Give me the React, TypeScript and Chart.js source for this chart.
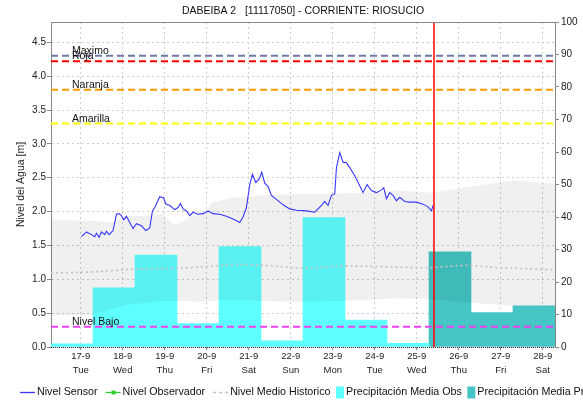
import React, { useEffect, useRef } from 'react';
import { Chart, registerables } from 'chart.js';

Chart.register(...registerables);

const FONT = '"Liberation Sans", Arial, sans-serif';

// ---------- texts ----------
const TITLE = 'DABEIBA 2   [11117050] - CORRIENTE: RIOSUCIO';
const Y_TITLE = 'Nivel del Agua [m]';

// ---------- x axis (days since 17-9 00:00) ----------
const X_MIN = -17 / 24; // 16-9 07:00
const X_MAX = 11 + 7 / 24; // 28-9 07:00
const NOW_DAY = 8.41;
const dayTicks = [0, 1, 2, 3, 4, 5, 6, 7, 8, 9, 10, 11];
const dateLabels = ['17-9', '18-9', '19-9', '20-9', '21-9', '22-9', '23-9', '24-9', '25-9', '26-9', '27-9', '28-9'];
const weekdayLabels = ['Tue', 'Wed', 'Thu', 'Fri', 'Sat', 'Sun', 'Mon', 'Tue', 'Wed', 'Thu', 'Fri', 'Sat'];

// ---------- y axes ----------
const LEVEL_MAX = 4.8;
const levelTicks = [0, 0.5, 1, 1.5, 2, 2.5, 3, 3.5, 4, 4.5];
const RAIN_MAX = 100;
const rainTicks = [0, 10, 20, 30, 40, 50, 60, 70, 80, 90, 100];

// ---------- Nivel Sensor ----------
const sensorDay = [0.017, 0.136, 0.255, 0.333, 0.374, 0.436, 0.493, 0.571, 0.612, 0.674, 0.769, 0.850, 0.912, 0.969, 1.024, 1.088, 1.167, 1.245, 1.326, 1.445, 1.548, 1.643, 1.707, 1.762, 1.881, 1.976, 2.024, 2.119, 2.238, 2.317, 2.374, 2.436, 2.517, 2.595, 2.674, 2.793, 2.912, 3.031, 3.150, 3.310, 3.469, 3.626, 3.786, 3.864, 3.945, 4.024, 4.088, 4.167, 4.245, 4.310, 4.381, 4.460, 4.540, 4.660, 4.817, 4.976, 5.136, 5.374, 5.571, 5.731, 5.810, 5.888, 5.969, 6.048, 6.088, 6.167, 6.245, 6.326, 6.405, 6.524, 6.643, 6.721, 6.817, 6.921, 7.040, 7.160, 7.214, 7.279, 7.357, 7.436, 7.517, 7.595, 7.714, 7.833, 7.993, 8.150, 8.269, 8.350, 8.388];
const sensorLevel = [1.63, 1.70, 1.66, 1.63, 1.68, 1.62, 1.70, 1.66, 1.71, 1.66, 1.72, 1.96, 1.97, 1.94, 1.88, 1.93, 1.84, 1.75, 1.82, 1.79, 1.72, 1.76, 2.01, 2.06, 2.22, 2.20, 2.11, 2.09, 2.03, 2.06, 2.12, 2.04, 2.01, 1.94, 1.99, 1.96, 1.97, 2.01, 1.97, 1.96, 1.93, 1.89, 1.84, 1.92, 2.06, 2.40, 2.55, 2.43, 2.48, 2.58, 2.42, 2.37, 2.24, 2.18, 2.10, 2.04, 2.02, 2.01, 1.99, 2.09, 2.15, 2.09, 2.24, 2.26, 2.65, 2.87, 2.73, 2.72, 2.65, 2.53, 2.38, 2.28, 2.40, 2.31, 2.28, 2.32, 2.35, 2.19, 2.28, 2.24, 2.16, 2.21, 2.15, 2.14, 2.14, 2.11, 2.07, 2.01, 2.09];

// ---------- historic band (min / max) ----------
const bandDay = [-0.708, -0.5, -0.07, 0.286, 0.738, 1.095, 1.643, 1.929, 2.19, 2.31, 2.52, 2.714, 3.0, 3.119, 3.31, 3.667, 3.952, 4.262, 5.143, 5.452, 6.714, 7.524, 8.381, 9.19, 9.976, 10.286, 11.292];
const bandUpper = [1.89, 1.88, 1.87, 1.87, 1.84, 1.93, 1.94, 1.97, 1.82, 1.82, 1.88, 1.97, 2.01, 2.14, 2.16, 2.21, 2.21, 2.24, 2.26, 2.26, 2.28, 2.31, 2.28, 2.36, 2.43, 2.46, 2.41];
const bandLower = [0.47, 0.47, 0.47, 0.48, 0.56, 0.62, 0.66, 0.68, 0.68, 0.68, 0.68, 0.67, 0.67, 0.68, 0.69, 0.69, 0.69, 0.68, 0.67, 0.67, 0.69, 0.72, 0.70, 0.66, 0.62, 0.61, 0.60];

// ---------- Nivel Medio Historico ----------
const medianDay = [-0.708, 0.286, 1.286, 2.31, 3.667, 4.333, 5.286, 6.333, 7.524, 8.31, 9.19, 9.976, 11.292];
const medianLevel = [1.09, 1.11, 1.15, 1.16, 1.22, 1.21, 1.16, 1.20, 1.18, 1.17, 1.21, 1.17, 1.14];

// ---------- precipitation (daily, 07:00 to 07:00) ----------
const RAIN_START_HOUR = 7;
const obsRainDayIndex = [-1, 0, 1, 2, 3, 4, 5, 6, 7];
const obsRain = [1.0, 18.2, 28.3, 7.2, 30.9, 1.9, 39.8, 8.3, 1.1];
const predRainDayIndex = [8, 9, 10];
const predRain = [29.3, 10.6, 12.7];

// ---------- thresholds ----------
const thresholdNames = ['Maximo', 'Roja', 'Naranja', 'Amarilla', 'Nivel Bajo'];
const thresholdValues = [4.3, 4.22, 3.8, 3.3, 0.3];
const thresholdColors = ['#6C7BA6', '#FF0000', '#FF9A00', '#FFFF00', '#F040F0'];

const SENSOR_COLOR = '#3636FF';
const OBSERVER_COLOR = '#33CC33';
const MEDIAN_COLOR = '#C4C4C4';
const OBS_RAIN_COLOR = '#5EFFFF';
const PRED_RAIN_COLOR = '#45C5C5';
const GRID_COLOR = '#CDCDCD';

const rainCenter = (idx: number) => idx + RAIN_START_HOUR / 24 + 0.5;

const decorPlugin = {
  id: 'decor',
  afterDatasetsDraw(chart: any) {
    const { ctx, chartArea: a, scales } = chart;
    const xs = scales.x;
    const ys = scales.y;
    ctx.save();
    // threshold labels
    ctx.font = `10.5px ${FONT}`;
    ctx.fillStyle = '#111';
    ctx.textAlign = 'left';
    ctx.textBaseline = 'alphabetic';
    thresholdNames.forEach((n, i) => {
      ctx.fillText(n, a.left + 21, ys.getPixelForValue(thresholdValues[i]) - 2);
    });
    // now line
    const nx = xs.getPixelForValue(NOW_DAY);
    ctx.strokeStyle = '#FF0000';
    ctx.lineWidth = 1.5;
    ctx.beginPath();
    ctx.moveTo(nx, a.top);
    ctx.lineTo(nx, a.bottom);
    ctx.stroke();
    // top border
    ctx.strokeStyle = '#888';
    ctx.lineWidth = 1;
    ctx.beginPath();
    ctx.moveTo(a.left, a.top + 0.5);
    ctx.lineTo(a.right, a.top + 0.5);
    ctx.stroke();
    // bottom dotted border
    ctx.strokeStyle = '#333';
    ctx.setLineDash([1, 1]);
    ctx.beginPath();
    ctx.moveTo(a.left, a.bottom + 0.5);
    ctx.lineTo(a.right, a.bottom + 0.5);
    ctx.stroke();
    ctx.restore();
  },
  afterDraw(chart: any) {
    const { ctx, chartArea: a } = chart;
    ctx.save();
    ctx.fillStyle = '#111';
    ctx.font = `10.5px ${FONT}`;
    ctx.textAlign = 'center';
    ctx.textBaseline = 'middle';
    ctx.fillText(TITLE, (a.left + a.right) / 2, 11);

    // legend
    ctx.font = `10.7px ${FONT}`;
    ctx.textAlign = 'left';
    const y = 392;
    let x = 20;
    const items = chart.data.datasets.filter((d: any) => d.legendKind);
    items.forEach((d: any, i: number) => {
      const kind = d.legendKind;
      if (kind === 'box') {
        ctx.fillStyle = d.backgroundColor;
        ctx.fillRect(x, y - 5.5, 8, 12);
        x += 10;
      } else {
        ctx.strokeStyle = d.borderColor;
        ctx.lineWidth = kind === 'dash' ? 1.5 : 1.3;
        ctx.setLineDash(kind === 'dash' ? [3, 3] : []);
        ctx.beginPath();
        ctx.moveTo(x, y + 0.5);
        ctx.lineTo(x + 15, y + 0.5);
        ctx.stroke();
        ctx.setLineDash([]);
        if (kind === 'marker') {
          ctx.fillStyle = d.borderColor;
          ctx.fillRect(x + 6, y - 1.5, 4, 4);
        }
        x += 17;
      }
      ctx.fillStyle = '#111';
      ctx.fillText(d.label, x, y + 0.5);
      x += ctx.measureText(d.label).width;
      const next = items[i + 1];
      x += next && next.legendKind === 'box' ? 5.5 : 8;
    });
    ctx.restore();
  },
};

export default function App() {
  const ref = useRef<HTMLCanvasElement>(null);

  useEffect(() => {
    const canvas = ref.current;
    if (!canvas) return;

    const thresholdSets = thresholdNames.map((n, i) => ({
      type: 'line',
      label: n,
      data: [
        { x: X_MIN, y: thresholdValues[i] },
        { x: X_MAX, y: thresholdValues[i] },
      ],
      yAxisID: 'y',
      borderColor: thresholdColors[i],
      borderWidth: 2,
      borderDash: [7, 4],
      pointRadius: 0,
      fill: false,
    }));

    const datasets: any[] = [
      {
        type: 'line',
        label: 'Nivel Sensor',
        legendKind: 'line',
        data: sensorDay.map((d, i) => ({ x: d, y: sensorLevel[i] })),
        yAxisID: 'y',
        borderColor: SENSOR_COLOR,
        borderWidth: 1.1,
        pointRadius: 0,
        tension: 0,
        fill: false,
      },
      {
        type: 'line',
        label: 'Nivel Observador',
        legendKind: 'marker',
        data: [],
        yAxisID: 'y',
        borderColor: OBSERVER_COLOR,
        backgroundColor: OBSERVER_COLOR,
        borderWidth: 1.3,
        pointStyle: 'rect',
        pointRadius: 2,
      },
      ...thresholdSets,
      {
        type: 'line',
        label: 'Nivel Medio Historico',
        legendKind: 'dash',
        data: medianDay.map((d, i) => ({ x: d, y: medianLevel[i] })),
        yAxisID: 'y',
        borderColor: MEDIAN_COLOR,
        borderWidth: 1.8,
        borderDash: [2, 3],
        pointRadius: 0,
        fill: false,
      },
      {
        type: 'line',
        label: 'Rango Historico Max',
        data: bandDay.map((d, i) => ({ x: d, y: bandUpper[i] })),
        yAxisID: 'y',
        borderWidth: 0,
        borderColor: 'rgba(0,0,0,0)',
        backgroundColor: 'rgba(0,0,0,0.06)',
        pointRadius: 0,
        fill: '+1',
      },
      {
        type: 'line',
        label: 'Rango Historico Min',
        data: bandDay.map((d, i) => ({ x: d, y: bandLower[i] })),
        yAxisID: 'y',
        borderWidth: 0,
        borderColor: 'rgba(0,0,0,0)',
        pointRadius: 0,
        fill: false,
      },
      {
        type: 'bar',
        label: 'Precipitación Media Obs',
        legendKind: 'box',
        data: obsRainDayIndex.map((d, i) => ({ x: rainCenter(d), y: obsRain[i] })),
        yAxisID: 'y2',
        backgroundColor: OBS_RAIN_COLOR,
        borderWidth: 0,
        grouped: false,
        barPercentage: 1,
        categoryPercentage: 1,
      },
      {
        type: 'bar',
        label: 'Precipitación Media Pronosticada',
        legendKind: 'box',
        data: predRainDayIndex.map((d, i) => ({ x: rainCenter(d), y: predRain[i] })),
        yAxisID: 'y2',
        backgroundColor: PRED_RAIN_COLOR,
        borderWidth: 0,
        grouped: false,
        barPercentage: 1,
        categoryPercentage: 1,
      },
    ];

    const chart = new Chart(canvas, {
      type: 'line',
      data: { datasets },
      options: {
        responsive: false,
        animation: false,
        layout: { padding: { top: 22, right: 0, bottom: 22, left: 0 } },
        font: { family: FONT },
        plugins: {
          legend: { display: false },
          tooltip: { enabled: false },
          title: { display: false },
        },
        scales: {
          x: {
            type: 'linear',
            min: X_MIN,
            max: X_MAX,
            offset: false,
            afterBuildTicks: (s: any) => {
              s.ticks = dayTicks.map((v) => ({ value: v }));
            },
            afterFit: (s: any) => {
              s.height = 32;
            },
            ticks: {
              autoSkip: false,
              maxRotation: 0,
              padding: 0,
              color: '#222',
              font: { family: FONT, size: 9.5, lineHeight: 1.4 },
              callback: (v: any) => {
                const i = dayTicks.indexOf(Number(v));
                return i >= 0 ? [dateLabels[i], weekdayLabels[i]] : '';
              },
            },
            grid: { offset: false, color: GRID_COLOR, tickLength: 3, tickColor: '#888' },
            border: { display: false, dash: [2, 3] },
          },
          y: {
            type: 'linear',
            position: 'left',
            min: 0,
            max: LEVEL_MAX,
            afterBuildTicks: (s: any) => {
              s.ticks = levelTicks.map((v) => ({ value: v }));
            },
            afterFit: (s: any) => {
              s.width = 51;
            },
            ticks: {
              padding: 1,
              color: '#222',
              font: { family: FONT, size: 10 },
              callback: (v: any) => Number(v).toFixed(1),
            },
            grid: { color: GRID_COLOR, tickLength: 4, tickColor: '#888' },
            border: { color: '#888', dash: [2, 3] },
            title: {
              display: true,
              text: Y_TITLE,
              color: '#222',
              font: { family: FONT, size: 10.5 },
              padding: { top: 15, bottom: 0 },
            },
          },
          y2: {
            type: 'linear',
            position: 'right',
            min: 0,
            max: RAIN_MAX,
            afterBuildTicks: (s: any) => {
              s.ticks = rainTicks.map((v) => ({ value: v }));
            },
            afterFit: (s: any) => {
              s.width = 28;
            },
            ticks: {
              padding: 2,
              color: '#222',
              font: { family: FONT, size: 10 },
              callback: (v: any) => String(v),
            },
            grid: { drawOnChartArea: false, tickLength: 4, tickColor: '#888' },
            border: { color: '#888' },
          },
        },
      } as any,
      plugins: [decorPlugin],
    } as any);

    return () => chart.destroy();
  }, []);

  return (
    <div style={{ position: 'fixed', left: 0, top: 0, width: 583, height: 401, background: '#fff' }}>
      <canvas ref={ref} width={583} height={401} style={{ display: 'block', width: 583, height: 401 }} />
    </div>
  );
}
